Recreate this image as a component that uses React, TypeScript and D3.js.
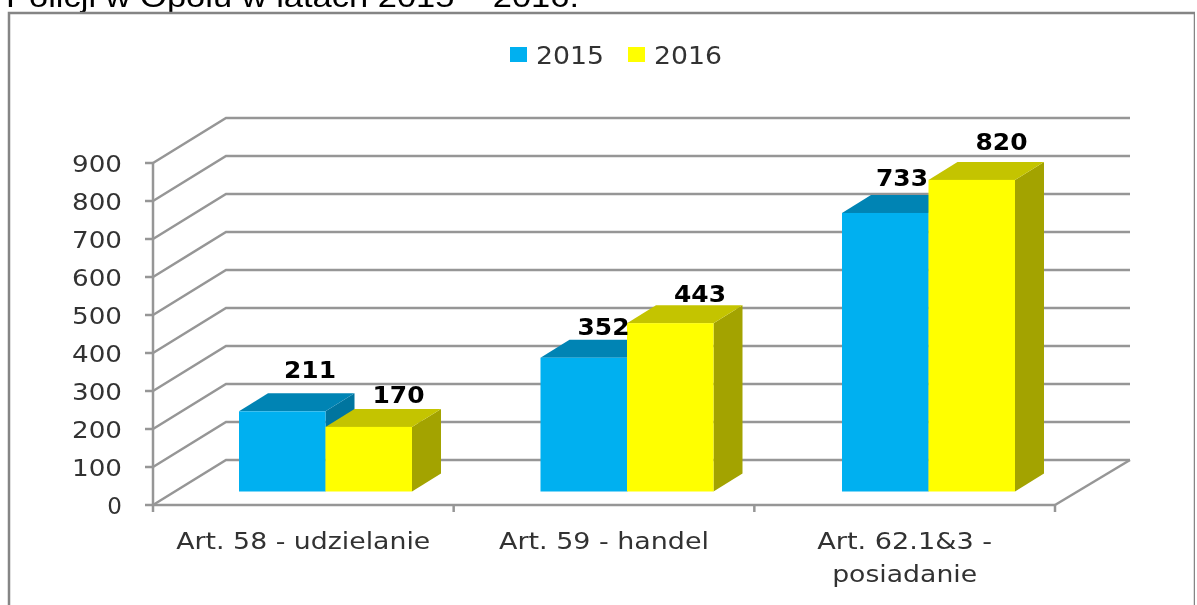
import * as d3 from 'd3'

const W = 1197
const H = 605

const categories = ['Art. 58 - udzielanie', 'Art. 59 - handel', 'Art. 62.1&3 -|posiadanie']
const values2015 = [211, 352, 733]
const values2016 = [170, 443, 820]
const yTicks = [0, 100, 200, 300, 400, 500, 600, 700, 800, 900]

const TITLE = 'Policji w Opolu w latach 2015 – 2016.'
const GRID = '#969696'
const TEXT = '#333333'

// oblique projection of the 3D box
const WALL_DX = 74
const WALL_DY = -45
const BAR_DX = 29
const BAR_DY = -18
const BAR_LIFT = 13.5 // bars stand a little behind the front edge of the floor

const x = d3.scaleBand<number>().domain([0, 1, 2]).range([153, 1055])
// bars run on a slightly wider band than the axis ticks in the source
const xBars = d3.scaleBand<number>().domain([0, 1, 2]).range([239, 1143.5])
const y = d3.scaleLinear().domain([0, 900]).range([505, 163])
const barW = 86.5

const series = [
  { name: '2015', values: values2015, front: '#00b0f0', top: '#0084b4', side: '#00759f' },
  { name: '2016', values: values2016, front: '#ffff00', top: '#c4c400', side: '#a3a300' },
]

// value label placement, per series and category
const labelDx = [[71, 63, 60], [73, 73, 73]]
const labelDy = [[-33, -23, -27], [-24, -21, -30]]

// the source image is stretched sideways, so text widths are forced
const categoryWidths: Record<string, number> = {
  'Art. 58 - udzielanie': 254,
  'Art. 59 - handel': 210,
  'Art. 62.1&3 -': 175,
  posiadanie: 145,
}

function Bar({ cat, s, i }: { cat: number; s: (typeof series)[number]; i: number }) {
  const x0 = (xBars(cat) as number) + i * barW
  const x1 = x0 + barW
  const yTop = y(s.values[cat]) - BAR_LIFT
  const yBase = y(0) - BAR_LIFT
  return (
    <g>
      <polygon
        points={`${x1},${yTop} ${x1 + BAR_DX},${yTop + BAR_DY} ${x1 + BAR_DX},${yBase + BAR_DY} ${x1},${yBase}`}
        fill={s.side}
      />
      <polygon
        points={`${x0},${yTop} ${x0 + BAR_DX},${yTop + BAR_DY} ${x1 + BAR_DX},${yTop + BAR_DY} ${x1},${yTop}`}
        fill={s.top}
      />
      <rect x={x0} y={yTop} width={barW} height={yBase - yTop} fill={s.front} />
    </g>
  )
}

export default function App() {
  const xEnd = x.range()[1]
  const y0 = y(0)
  const bw = x.bandwidth()
  const labelFont = '"DejaVu Sans", sans-serif'

  return (
    <svg
      width={W}
      height={H}
      viewBox={`0 0 ${W} ${H}`}
      style={{ position: 'absolute', left: 0, top: 0, background: '#fff' }}
    >
      <defs>
        <filter id="soft" x="0" y="0" width="100%" height="100%">
          <feGaussianBlur stdDeviation="0.55" />
        </filter>
      </defs>

      <g filter="url(#soft)">
        <text
          x={6}
          y={7}
          fontFamily='"Liberation Sans", Arial, sans-serif'
          fontSize={29}
          textLength={573}
          lengthAdjust="spacingAndGlyphs"
          fill="#000"
        >
          {TITLE}
        </text>

        {/* chart frame, cut by the image edge */}
        <path d="M9,605 V13 H1195 V605" fill="none" stroke="#858585" strokeWidth={2.5} />

        {/* legend */}
        {series.map((s, i) => (
          <g key={s.name} transform={`translate(${510 + i * 118},47)`}>
            <rect width={17} height={15} fill={s.front} />
            <text x={26} y={17} fontFamily={labelFont} fontSize={24} textLength={68} lengthAdjust="spacingAndGlyphs" fill={TEXT}>
              {s.name}
            </text>
          </g>
        ))}

        {/* side wall and back wall gridlines */}
        {yTicks.map((t) => (
          <path
            key={t}
            d={`M${x.range()[0]},${y(t)} L${x.range()[0] + WALL_DX - 1},${y(t) + WALL_DY} H${xEnd + WALL_DX + 1}`}
            fill="none"
            stroke={GRID}
            strokeWidth={2.5}
          />
        ))}
        {/* floor right edge */}
        <path d={`M${xEnd},${y0} L${xEnd + WALL_DX + 1},${y0 + WALL_DY}`} fill="none" stroke={GRID} strokeWidth={2.5} />

        {/* axes */}
        <path d={`M153,${y(900)} V${y0 + 7}`} fill="none" stroke={GRID} strokeWidth={2.5} />
        <path d={`M153,${y0} H${xEnd}`} fill="none" stroke={GRID} strokeWidth={2.5} />
        {yTicks.map((t) => (
          <g key={t}>
            <line x1={145} x2={153} y1={y(t)} y2={y(t)} stroke={GRID} strokeWidth={2.5} />
            <text
              x={122}
              y={y(t) + 9}
              textAnchor="end"
              fontFamily={labelFont}
              fontSize={23}
              fill={TEXT}
              {...(t > 0 ? { textLength: 50, lengthAdjust: 'spacingAndGlyphs' } : {})}
            >
              {t}
            </text>
          </g>
        ))}
        {categories.map((c, i) => (
          <line
            key={c}
            x1={(x(i) as number) + bw}
            x2={(x(i) as number) + bw}
            y1={y0}
            y2={y0 + 7}
            stroke={GRID}
            strokeWidth={2.5}
          />
        ))}

        {/* bars */}
        {categories.map((c, ci) => (
          <g key={c}>
            {series.map((s, si) => (
              <Bar key={s.name} cat={ci} s={s} i={si} />
            ))}
          </g>
        ))}

        {/* value labels */}
        {series.map((s, si) =>
          s.values.map((v, ci) => (
            <text
              key={`${s.name}-${ci}`}
              x={(xBars(ci) as number) + si * barW + labelDx[si][ci]}
              y={y(v) - BAR_LIFT + labelDy[si][ci]}
              textAnchor="middle"
              fontFamily={labelFont}
              fontWeight="bold"
              fontSize={23}
              textLength={52}
              lengthAdjust="spacingAndGlyphs"
              fill="#000"
            >
              {v}
            </text>
          ))
        )}

        {/* category labels */}
        {categories.map((c, i) =>
          c.split('|').map((line, li) => (
            <text
              key={line}
              x={(x(i) as number) + bw / 2}
              y={549 + li * 33}
              textAnchor="middle"
              fontFamily={labelFont}
              fontSize={23}
              textLength={categoryWidths[line]}
              lengthAdjust="spacingAndGlyphs"
              fill={TEXT}
            >
              {line}
            </text>
          ))
        )}
      </g>
    </svg>
  )
}
